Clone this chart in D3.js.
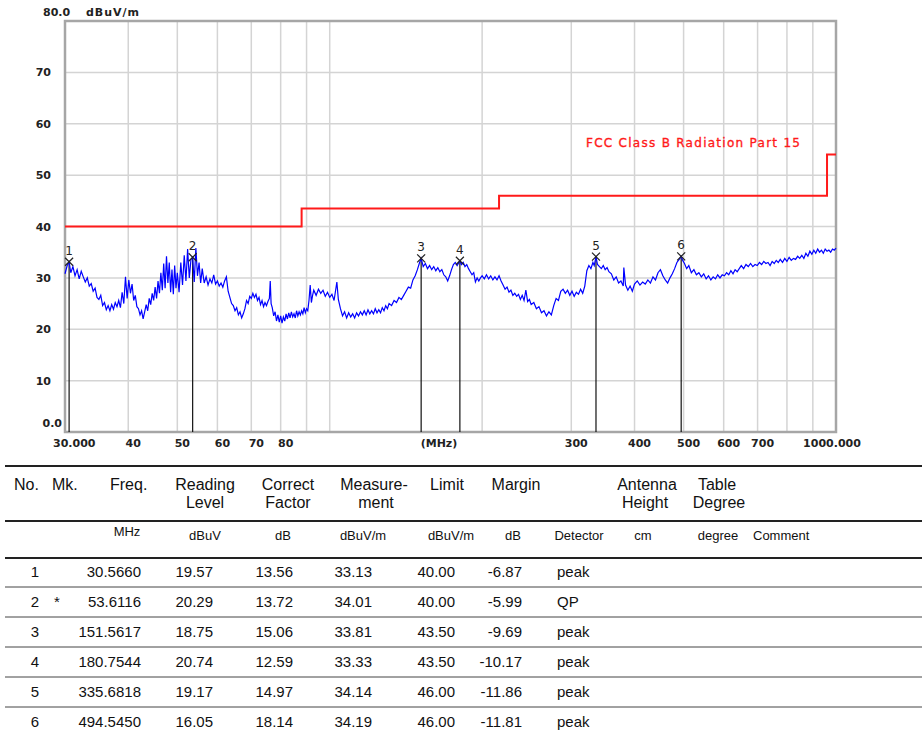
<!DOCTYPE html>
<html>
<head>
<meta charset="utf-8">
<script src="https://cdn.jsdelivr.net/npm/d3@7"></script>
<style>
  body { margin: 0; background: #fff; }
  svg { display: block; }
</style>
</head>
<body>
<div id="chart"></div>
<script>
// measured trace, [MHz, dBuV/m]
const trace = [
  [30.0,30.8],[30.3,32.4],[30.566,33.1],[30.8,31.0],[31.1,32.2],[31.4,30.4],[31.7,31.6],[32.0,29.8],
  [32.3,31.3],[32.6,30.2],[32.9,29.2],[33.2,30.0],[33.5,28.4],[33.8,28.9],[34.1,27.4],[34.4,28.0],
  [34.7,26.2],[35.0,25.8],[35.3,26.6],[35.6,24.6],[35.9,25.2],[36.2,23.8],[36.5,24.6],[36.8,23.6],
  [37.1,24.8],[37.4,23.9],[37.7,25.2],[38.0,24.4],[38.3,25.6],[38.6,24.2],[38.9,27.2],[39.2,25.0],
  [39.5,30.2],[39.8,26.0],[40.1,29.6],[40.4,27.0],[40.7,28.8],[41.0,25.6],[41.3,26.6],[41.6,24.4],
  [41.9,24.0],[42.2,22.8],[42.5,23.6],[42.8,22.0],[43.1,23.4],[43.4,24.8],[43.7,23.6],[44.0,26.0],
  [44.3,24.8],[44.6,27.0],[44.9,25.6],[45.2,28.2],[45.5,26.0],[45.8,29.4],[46.1,27.0],[46.4,31.0],
  [46.7,27.6],[47.0,32.8],[47.3,28.0],[47.6,34.2],[47.9,29.0],[48.2,33.0],[48.5,27.2],[48.8,31.6],
  [49.1,26.8],[49.4,32.4],[49.7,28.0],[50.0,31.0],[50.4,27.2],[50.8,33.0],[51.2,28.6],[51.6,34.4],
  [52.0,29.4],[52.4,35.6],[52.8,30.0],[53.2,33.6],[53.6,34.0],[54.0,29.2],[54.4,35.8],[54.8,30.4],
  [55.2,33.0],[55.6,29.0],[56.0,31.8],[56.5,29.0],[57.0,30.2],[57.5,28.6],[58.0,29.8],[58.5,29.0],
  [59.0,30.6],[59.5,28.8],[60.0,29.4],[60.5,28.4],[61.0,29.0],[61.5,28.2],[62.0,29.4],[62.5,30.2],
  [63.0,27.4],[63.5,26.2],[64.0,25.0],[64.5,24.6],[65.0,23.6],[65.5,24.2],[66.0,22.8],[66.5,23.4],
  [67.0,22.2],[67.5,23.0],[68.0,24.0],[68.5,25.6],[69.0,25.0],[69.5,26.4],[70.0,26.0],[70.5,27.0],
  [71.0,26.2],[71.5,26.8],[72.0,25.6],[72.5,26.2],[73.0,24.8],[73.5,25.6],[74.0,24.4],[74.5,25.2],
  [75.0,24.6],[75.5,25.4],[76.0,26.0],[76.3,29.4],[76.6,25.0],[77.0,24.2],[77.5,22.6],[78.0,23.4],
  [78.5,21.6],[79.0,22.8],[79.5,21.4],[80.0,22.6],[80.5,21.2],[81.0,22.4],[81.5,21.6],[82.0,23.0],
  [82.5,22.0],[83.0,23.2],[83.5,22.2],[84.0,23.4],[84.5,22.4],[85.0,23.0],[85.5,22.2],[86.0,23.6],
  [86.5,22.6],[87.0,23.4],[87.5,22.8],[88.0,23.6],[88.5,23.0],[89.0,24.2],[89.5,23.2],[90.0,24.0],
  [90.5,23.6],[91.0,25.6],[91.5,28.6],[92.0,25.2],[92.5,26.6],[93.0,27.6],[94.0,26.6],[95.0,27.8],
  [96.0,27.0],[97.0,27.6],[98.0,26.4],[99.0,27.2],[100.0,26.2],[101.0,26.8],[102.0,25.6],[103.3,29.2],
  [104.0,25.8],[105.0,24.0],[106.0,22.6],[107.0,23.4],[108.0,22.2],[109.0,23.2],[110.0,22.4],[111.0,23.0],
  [112.0,22.2],[113.0,23.2],[114.0,22.6],[115.0,23.4],[116.0,22.8],[117.0,23.6],[118.0,22.8],[119.0,23.8],
  [120.0,23.0],[121.0,23.6],[122.0,23.0],[123.0,24.0],[124.0,23.2],[125.0,23.8],[126.0,23.2],[127.0,24.2],
  [128.0,23.6],[129.0,24.6],[130.0,24.0],[131.0,25.0],[132.5,24.6],[134.0,25.6],[135.5,25.2],[137.0,26.2],
  [138.5,25.8],[140.0,26.6],[141.5,27.4],[143.0,28.2],[144.5,28.0],[146.0,29.6],[147.5,30.4],[149.0,31.6],
  [150.5,33.0],[151.56,33.8],[153.0,32.2],[154.5,32.8],[156.0,31.8],[157.5,32.4],[159.0,31.6],[160.5,32.2],
  [162.0,31.4],[163.5,32.0],[165.0,31.2],[166.5,31.6],[168.0,30.6],[169.5,30.2],[171.0,29.4],[172.5,30.4],
  [174.0,31.6],[175.5,32.6],[177.0,33.0],[178.5,32.4],[180.75,33.3],[182.0,32.6],[183.5,33.0],[185.0,32.2],
  [186.5,32.6],[188.0,31.8],[189.5,31.2],[191.0,30.6],[192.5,31.0],[194.0,29.2],[195.5,30.0],[197.0,29.4],
  [198.5,30.0],[200.0,30.4],[202.0,29.8],[204.0,30.6],[206.0,29.8],[208.0,30.4],[210.0,29.6],[212.0,30.2],
  [214.0,29.6],[216.0,30.4],[218.0,29.4],[220.0,28.6],[222.0,27.8],[224.0,28.2],[226.0,27.2],[228.0,27.6],
  [230.0,26.6],[232.0,27.0],[234.0,26.4],[236.0,26.8],[238.0,25.8],[240.0,26.6],[242.0,25.6],[244.0,27.6],
  [246.0,25.4],[248.0,25.8],[250.0,24.8],[253.0,25.2],[256.0,24.0],[259.0,24.4],[262.0,23.2],[265.0,23.6],
  [268.0,22.6],[271.0,23.4],[274.0,22.8],[277.0,24.6],[280.0,26.0],[283.0,25.6],[286.0,27.4],[289.0,27.8],
  [292.0,27.0],[295.0,27.6],[298.0,26.6],[301.0,27.4],[304.0,26.4],[307.0,27.2],[310.0,26.8],[313.0,27.8],
  [316.0,27.0],[319.0,28.4],[322.0,31.4],[325.0,32.4],[328.0,31.8],[331.0,33.0],[333.0,32.4],[335.68,34.1],
  [338.0,32.6],[341.0,32.2],[344.0,31.8],[347.0,32.4],[350.0,31.6],[353.0,32.0],[356.0,31.2],[360.0,30.8],
  [364.0,29.6],[368.0,30.2],[372.0,29.0],[376.0,29.4],[380.0,28.4],[381.0,32.0],[384.0,28.6],[388.0,27.6],
  [392.0,28.4],[396.0,27.4],[400.0,28.8],[405.0,29.4],[410.0,28.6],[415.0,29.2],[420.0,28.8],[425.0,29.6],
  [430.0,29.0],[435.0,30.2],[440.0,29.6],[445.0,31.0],[450.0,31.6],[455.0,30.4],[460.0,29.6],[465.0,29.0],
  [470.0,30.0],[475.0,30.8],[480.0,31.8],[485.0,33.0],[490.0,33.6],[494.545,34.2],[498.0,33.4],[502.0,32.8],
  [507.0,31.8],[512.0,32.4],[518.0,31.0],[524.0,31.6],[530.0,30.6],[536.0,31.0],[542.0,30.2],[548.0,30.8],
  [554.0,29.8],[560.0,30.4],[566.0,29.6],[572.0,30.2],[578.0,29.8],[584.0,30.6],[590.0,30.0],[596.0,30.6],
  [602.0,30.4],[608.0,31.0],[614.0,30.6],[620.0,31.4],[626.0,30.8],[632.0,31.6],[638.0,31.2],[644.0,31.8],
  [650.0,32.4],[657.0,31.8],[664.0,32.6],[671.0,32.2],[678.0,32.8],[685.0,32.2],[692.0,32.6],[699.0,32.4],
  [706.0,33.0],[713.0,32.6],[720.0,33.2],[727.0,32.8],[734.0,33.0],[741.0,32.4],[748.0,33.2],[755.0,32.8],
  [762.0,33.4],[769.0,33.0],[776.0,33.6],[784.0,33.0],[792.0,33.8],[800.0,33.2],[808.0,34.0],[816.0,33.4],
  [824.0,33.8],[832.0,33.6],[840.0,34.2],[848.0,33.8],[856.0,34.4],[864.0,33.8],[872.0,34.8],[880.0,34.2],
  [888.0,35.2],[896.0,34.6],[904.0,35.4],[912.0,34.8],[920.0,35.6],[928.0,35.0],[936.0,35.4],[944.0,34.8],
  [952.0,35.6],[960.0,35.2],[968.0,35.4],[976.0,35.0],[984.0,35.6],[992.0,35.4],[1000.0,35.8]
];

// FCC class B limit (steps)
const limitFreq = [30, 88, 88, 216, 216, 960, 960, 1000];
const limitLevel = [40, 40, 43.5, 43.5, 46, 46, 54, 54];

const xGrid = [40, 50, 60, 70, 80, 90, 100, 200, 300, 400, 500, 600, 700, 800, 900];
const yGrid = [10, 20, 30, 40, 50, 60, 70];
const xLabels = [40, 50, 60, 70, 80, 300, 400, 500, 600, 700];
const yLabels = [10, 20, 30, 40, 50, 60, 70];

// marker table
const markNo = ["1", "2", "3", "4", "5", "6"];
const markStar = ["", "*", "", "", "", ""];
const markFreq = [30.5660, 53.6116, 151.5617, 180.7544, 335.6818, 494.5450];
const reading = [19.57, 20.29, 18.75, 20.74, 19.17, 16.05];
const correct = [13.56, 13.72, 15.06, 12.59, 14.97, 18.14];
const measure = [33.13, 34.01, 33.81, 33.33, 34.14, 34.19];
const limit = [40.00, 40.00, 43.50, 43.50, 46.00, 46.00];
const margin = [-6.87, -5.99, -9.69, -10.17, -11.86, -11.81];
const detector = ["peak", "QP", "peak", "peak", "peak", "peak"];

const W = 922, H = 736;
const pL = 65, pR = 836, pT = 21, pB = 432;

const svg = d3.select("#chart").append("svg")
  .attr("width", W).attr("height", H);

const x = d3.scaleLog().domain([30, 1000]).range([pL, pR]);
const y = d3.scaleLinear().domain([0, 80]).range([pB, pT]);

const labelFont = "'DejaVu Sans', Verdana, sans-serif";
const tableFont = "'Liberation Sans', Arial, sans-serif";

// grid
svg.append("g").selectAll("line").data(xGrid).join("line")
  .attr("x1", d => x(d)).attr("x2", d => x(d))
  .attr("y1", pT).attr("y2", pB)
  .attr("stroke", "#d4d4d4").attr("stroke-width", 1.5);

svg.append("g").selectAll("line").data(yGrid).join("line")
  .attr("x1", pL).attr("x2", pR)
  .attr("y1", d => y(d)).attr("y2", d => y(d))
  .attr("stroke", "#d4d4d4").attr("stroke-width", 1.5);

// frame
svg.append("rect")
  .attr("x", pL).attr("y", pT)
  .attr("width", pR - pL).attr("height", pB - pT)
  .attr("fill", "none").attr("stroke", "#a6a6a6").attr("stroke-width", 2.5);

// y labels
svg.append("g").selectAll("text").data(yLabels).join("text")
  .attr("x", 51).attr("y", d => y(d) + 4)
  .attr("text-anchor", "end")
  .attr("font-family", labelFont).attr("font-size", 11).attr("font-weight", "bold")
  .attr("fill", "#222")
  .text(d => d);

svg.append("text").attr("x", 62).attr("y", 427).attr("text-anchor", "end")
  .attr("font-family", labelFont).attr("font-size", 11).attr("font-weight", "bold")
  .attr("fill", "#222").text("0.0");
svg.append("text").attr("x", 43).attr("y", 16)
  .attr("font-family", labelFont).attr("font-size", 11).attr("font-weight", "bold")
  .attr("fill", "#222").text("80.0");
svg.append("text").attr("x", 86).attr("y", 16)
  .attr("font-family", labelFont).attr("font-size", 11).attr("font-weight", "bold")
  .attr("textLength", 53).attr("fill", "#222").text("dBuV/m");

// x labels
svg.append("g").selectAll("text").data(xLabels).join("text")
  .attr("x", d => x(d) + 5).attr("y", 447)
  .attr("text-anchor", "middle")
  .attr("font-family", labelFont).attr("font-size", 11).attr("font-weight", "bold")
  .attr("fill", "#222")
  .text(d => d);
svg.append("text").attr("x", 53).attr("y", 447)
  .attr("font-family", labelFont).attr("font-size", 11).attr("font-weight", "bold")
  .attr("fill", "#222").text("30.000");
svg.append("text").attr("x", 832).attr("y", 447).attr("text-anchor", "middle")
  .attr("font-family", labelFont).attr("font-size", 11).attr("font-weight", "bold")
  .attr("fill", "#222").text("1000.000");
svg.append("text").attr("x", 439).attr("y", 447).attr("text-anchor", "middle")
  .attr("font-family", labelFont).attr("font-size", 11).attr("font-weight", "bold")
  .attr("fill", "#222").text("(MHz)");

// limit line
const limitLine = d3.line().x(d => x(d[0])).y(d => y(d[1]));
svg.append("path")
  .datum(limitFreq.map((f, i) => [f, limitLevel[i]]))
  .attr("d", limitLine)
  .attr("fill", "none").attr("stroke", "#ff1a1a").attr("stroke-width", 2);

svg.append("text")
  .attr("x", 586).attr("y", 147)
  .attr("font-family", labelFont).attr("font-size", 12)
  .attr("stroke", "#ff1a1a").attr("stroke-width", 0.35)
  .attr("textLength", 214).attr("fill", "#ff1a1a")
  .text("FCC Class B Radiation Part 15");

// marker lines (under trace)
svg.append("g").selectAll("line").data(markFreq).join("line")
  .attr("x1", d => x(d)).attr("x2", d => x(d))
  .attr("y1", (d, i) => y(measure[i])).attr("y2", pB)
  .attr("stroke", "#111").attr("stroke-width", 1.2);

// trace
svg.append("path")
  .datum(trace)
  .attr("d", d3.line().x(d => x(d[0])).y(d => y(d[1])))
  .attr("fill", "none").attr("stroke", "#0000ff").attr("stroke-width", 1.2);

// markers
const mk = svg.append("g").selectAll("g").data(markFreq).join("g")
  .attr("transform", (d, i) => "translate(" + x(d) + "," + y(measure[i]) + ")");
mk.append("path")
  .attr("d", "M-4,-4L4,4M-4,4L4,-4")
  .attr("stroke", "#222").attr("stroke-width", 1.2);
mk.append("text")
  .attr("y", -7).attr("text-anchor", "middle")
  .attr("font-family", labelFont).attr("font-size", 12)
  .attr("fill", "#222")
  .text((d, i) => markNo[i]);

// table
const rules = [466, 521, 558];
svg.append("g").selectAll("line").data(rules).join("line")
  .attr("x1", 5).attr("x2", W)
  .attr("y1", d => d).attr("y2", d => d)
  .attr("stroke", "#222").attr("stroke-width", 2);

const head1 = [["No.", 14, "start"], ["Mk.", 52, "start"], ["Freq.", 110, "start"],
  ["Reading", 205, "middle"], ["Correct", 288, "middle"], ["Measure-", 374, "middle"],
  ["Limit", 447, "middle"], ["Margin", 516, "middle"], ["Antenna", 647, "middle"], ["Table", 717, "middle"]];
const head2 = [["Level", 205], ["Factor", 288], ["ment", 376], ["Height", 645], ["Degree", 719]];
const units = [["MHz", 127, "middle", 536], ["dBuV", 205, "middle", 540], ["dB", 283, "middle", 540],
  ["dBuV/m", 363, "middle", 540], ["dBuV/m", 451, "middle", 540], ["dB", 513, "middle", 540],
  ["Detector", 579, "middle", 540], ["cm", 643, "middle", 540], ["degree", 718, "middle", 540],
  ["Comment", 753, "start", 540]];

svg.append("g").selectAll("text").data(head1).join("text")
  .attr("x", d => d[1]).attr("y", 490).attr("text-anchor", d => d[2])
  .attr("font-family", tableFont).attr("font-size", 16).attr("fill", "#111")
  .text(d => d[0]);
svg.append("g").selectAll("text").data(head2).join("text")
  .attr("x", d => d[1]).attr("y", 508).attr("text-anchor", "middle")
  .attr("font-family", tableFont).attr("font-size", 16).attr("fill", "#111")
  .text(d => d[0]);
svg.append("g").selectAll("text").data(units).join("text")
  .attr("x", d => d[1]).attr("y", d => d[3]).attr("text-anchor", d => d[2])
  .attr("font-family", tableFont).attr("font-size", 13).attr("fill", "#111")
  .text(d => d[0]);

const rowY = d3.scaleLinear().domain([0, 5]).range([577, 727]);
svg.append("g").selectAll("line").data(d3.range(5)).join("line")
  .attr("x1", 5).attr("x2", W)
  .attr("y1", i => rowY(i) + 10).attr("y2", i => rowY(i) + 10)
  .attr("stroke", "#444").attr("stroke-width", 1);

const cols = [
  [i => markNo[i], 35, "middle"],
  [i => markStar[i], 57, "middle"],
  [i => markFreq[i].toFixed(4), 141, "end"],
  [i => reading[i].toFixed(2), 213, "end"],
  [i => correct[i].toFixed(2), 293, "end"],
  [i => measure[i].toFixed(2), 372, "end"],
  [i => limit[i].toFixed(2), 455, "end"],
  [i => margin[i].toFixed(2), 522, "end"],
  [i => detector[i], 557, "start"]
];
cols.forEach(c => {
  svg.append("g").selectAll("text").data(d3.range(6)).join("text")
    .attr("x", c[1]).attr("y", i => rowY(i))
    .attr("text-anchor", c[2])
    .attr("font-family", tableFont).attr("font-size", 15).attr("fill", "#111")
    .text(c[0]);
});
</script>
</body>
</html>
